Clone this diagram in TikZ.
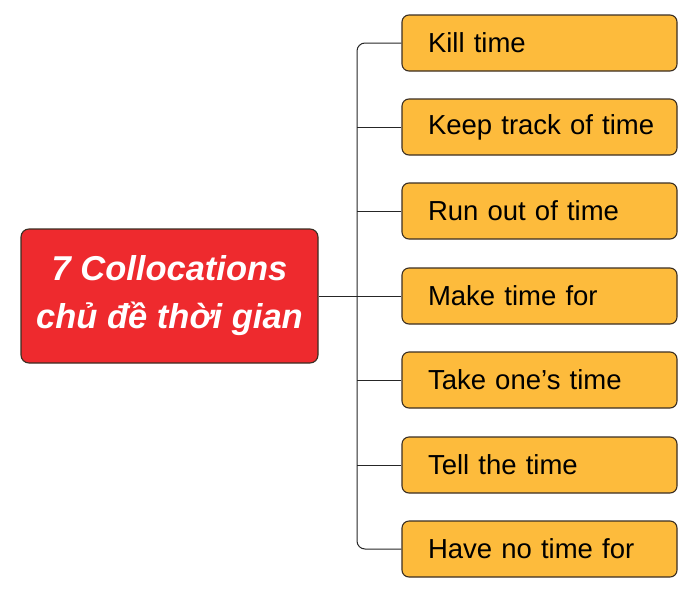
\documentclass[tikz,border=0pt]{standalone}
\usepackage{fontspec}
\setmainfont{Liberation Sans}
\definecolor{redbox}{HTML}{EE2A2E}
\definecolor{orangebox}{HTML}{FDBB3C}
\definecolor{edgecol}{HTML}{3A2E22}
\begin{document}
\begin{tikzpicture}[x=1pt,y=-1pt,
  itembox/.style={draw=edgecol, line width=1.1pt, fill=orangebox, rounded corners=7pt, minimum width=275pt, minimum height=56pt, inner sep=0pt, text width=249pt, align=left, execute at begin node={\hspace*{13pt}}, font=\fontsize{27.5}{30}\selectfont},
  mainbox/.style={draw=edgecol, line width=1.1pt, fill=redbox, rounded corners=8pt, minimum width=297pt, minimum height=134pt, inner sep=0pt, align=center, text=white, font=\fontsize{34.5}{48}\selectfont\bfseries\itshape},
  link/.style={draw=black!85, line width=1pt}]
\useasboundingbox (0,0) rectangle (700,597);
\node[mainbox] (main) at (169.5,296) {7 Collocations\\chủ đề thời gian};
\node[itembox] (k1) at (539.5,43) {Kill time};
\node[itembox] (k2) at (539.5,127) {Keep track of time};
\node[itembox] (k3) at (539.5,211) {Run out of time};
\node[itembox] (k4) at (539.5,296) {Make time for};
\node[itembox] (k5) at (539.5,380) {Take one’s time};
\node[itembox] (k6) at (539.5,465) {Tell the time};
\node[itembox] (k7) at (539.5,549) {Have no time for};
\coordinate (trunk) at (357,296);
\draw[link] (main.east) -- (k4.west);
\draw[link, rounded corners=8pt] (k1.west) -| (trunk) |- (k7.west);
\foreach \k in {k2,k3,k5,k6} \draw[link] (\k.west) -- (trunk |- \k.west);
\end{tikzpicture}
\end{document}
